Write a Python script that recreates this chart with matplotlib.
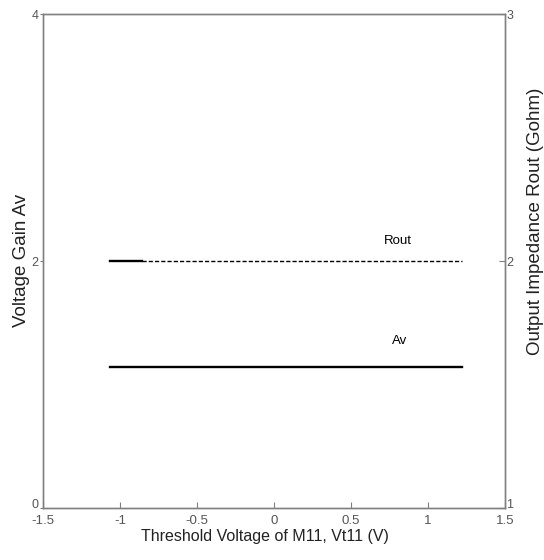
import matplotlib
matplotlib.use("Agg")
import matplotlib.pyplot as plt
import matplotlib.transforms as mtransforms

plt.rcParams['font.family'] = ['Liberation Sans', 'DejaVu Sans']

# data
vt_range = [-1.065, 1.22]
av = [1.14, 1.14]
rout_solid_x = [-1.065, -0.86]
rout_dash_x = [-0.86, 1.22]
rout = [2.0, 2.0]

x_ticks = [-1.5, -1, -0.5, 0, 0.5, 1, 1.5]
x_ticklabels = ['-1.5', '-1', '-0.5', '0', '0.5', '1', '1.5']
av_ticks = [0, 2, 4]
rout_ticks = [1, 2, 3]

gray = '#808080'
tick_col = '#555555'
fig = plt.figure(figsize=(5.44, 5.60), dpi=100)
ax = fig.add_axes([0.079, 0.0929, 0.849, 0.882])
ax2 = ax.twinx()

ax.plot(vt_range, av, color='black', lw=1.7)
ax2.plot(rout_solid_x, rout, color='black', lw=1.7)
ax2.plot(rout_dash_x, rout, color='black', lw=1.0, ls=(0, (3, 1.5)))

ax.set_xlim(-1.5, 1.5)
ax.set_ylim(0, 4)
ax2.set_ylim(1, 3)
ax.set_xticks(x_ticks)
ax.set_xticklabels(x_ticklabels, fontsize=9.5)
ax.set_yticks(av_ticks)
ax.set_yticklabels([str(t) for t in av_ticks], fontsize=9)
ax2.set_yticks(rout_ticks)
ax2.set_yticklabels([str(t) for t in rout_ticks], fontsize=9)

for a in (ax, ax2):
    for s in a.spines.values():
        s.set_color(gray)
        s.set_linewidth(1.0)
ax.tick_params(axis='x', direction='in', length=4, colors=gray, pad=5, labelcolor=tick_col)
ax.tick_params(axis='y', direction='out', length=2, colors=gray, pad=1, labelcolor=tick_col)
ax2.tick_params(axis='y', direction='in', length=4, colors=gray, pad=1, labelcolor=tick_col)

# bottom y labels sit slightly above the corner, as in the reference
lift = mtransforms.ScaledTranslation(0, 3 / 72, fig.dpi_scale_trans)
for lab in (ax.get_yticklabels()[0], ax2.get_yticklabels()[0]):
    lab.set_transform(lab.get_transform() + lift)

ax.set_xlabel('Threshold Voltage of M11, Vt11 (V)', fontsize=11.5, color='#222222')
ax.xaxis.set_label_coords(0.48, -0.043)
ax.set_ylabel('Voltage Gain Av', fontsize=13.5, color='#222222', va='center')
ax.yaxis.set_label_coords(-0.046, 0.502)
ax2.set_ylabel('Output Impedance Rout (Gohm)', fontsize=13.5, color='#222222', va='center')
ax2.yaxis.set_label_coords(1.066, 0.581)

ax2.text(0.805, 2.08, 'Rout', fontsize=9.5, ha='center', va='center')
ax.text(0.815, 1.352, 'Av', fontsize=9.5, ha='center', va='center')

fig.savefig('out.png', dpi=100)
